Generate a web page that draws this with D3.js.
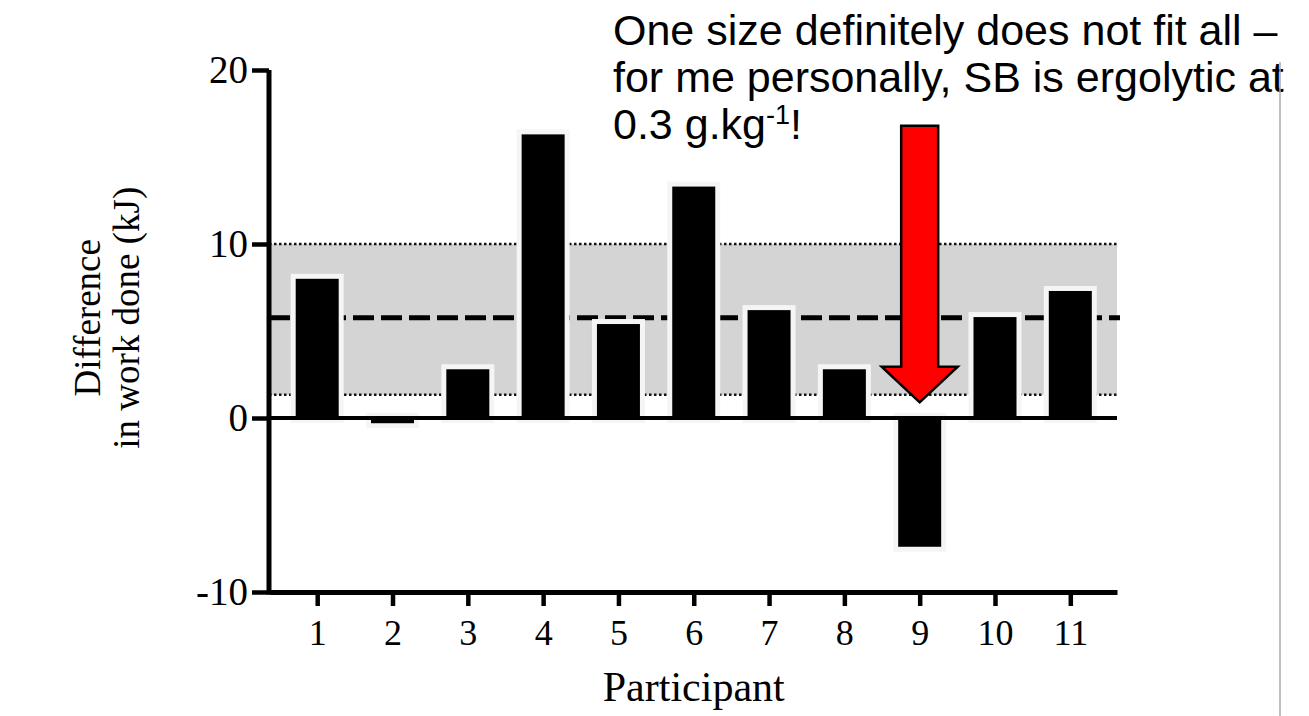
<!DOCTYPE html>
<html>
<head>
<meta charset="utf-8">
<script src="https://cdn.jsdelivr.net/npm/d3@7"></script>
<style>
  body { margin: 0; background: white; }
  svg { display: block; }
</style>
</head>
<body>
<div id="chart"></div>
<script>
// data
var participants = [1, 2, 3, 4, 5, 6, 7, 8, 9, 10, 11]
var workDiff = [8.0, -0.3, 2.8, 16.3, 5.4, 13.3, 6.2, 2.8, -7.4, 5.8, 7.3]
var yTicks = [-10, 0, 10, 20]
var meanDiff = 5.76
var bandLow = 1.33
var bandHigh = 10
var noteLines = ['One size definitely does not fit all \u2013',
                 'for me personally, SB is ergolytic at']
var arrowAt = 9, arrowTop = 16.8, arrowHead = 2.95, arrowTip = 0.9

var W = 1309, H = 716
var svg = d3.select('#chart').append('svg')
  .attr('width', W).attr('height', H)

var x = d3.scaleLinear().domain([0.36, 11.62]).range([269, 1117])
var y = d3.scaleLinear().domain([-10, 20]).range([592, 70])
var barW = 43
var serif = '"Liberation Serif", "Times New Roman", serif'
var sans = '"Liberation Sans", Arial, sans-serif'

// shaded band + dotted edges
svg.append('rect')
  .attr('x', x.range()[0]).attr('width', x.range()[1] - x.range()[0])
  .attr('y', y(bandHigh)).attr('height', y(bandLow) - y(bandHigh))
  .attr('fill', '#d4d4d4')
;[bandLow, bandHigh].forEach(function(v){
  svg.append('line')
    .attr('x1', x.range()[0]).attr('x2', x.range()[1])
    .attr('y1', y(v)).attr('y2', y(v))
    .attr('stroke', '#111').attr('stroke-width', 2.5)
    .attr('stroke-dasharray', '2.5,2.5')
})
// mean line
svg.append('line')
  .attr('x1', x.range()[0]).attr('x2', x.range()[1] + 3)
  .attr('y1', y(meanDiff)).attr('y2', y(meanDiff))
  .attr('stroke', '#000').attr('stroke-width', 5)
  .attr('stroke-dasharray', '21,7')

// bars with light halo
var bars = svg.append('g').selectAll('g')
  .data(participants.map(function(p, i){ return {p: p, v: workDiff[i]} }))
  .enter().append('g')
bars.append('rect')
  .attr('x', function(d){ return x(d.p) - barW/2 - 5 })
  .attr('width', barW + 10)
  .attr('y', function(d){ return Math.min(y(d.v), y(0)) - 5 })
  .attr('height', function(d){ return Math.abs(y(d.v) - y(0)) + 10 })
  .attr('fill', '#f5f5f5')
bars.append('rect')
  .attr('x', function(d){ return x(d.p) - barW/2 })
  .attr('width', barW)
  .attr('y', function(d){ return Math.min(y(d.v), y(0)) })
  .attr('height', function(d){ return Math.abs(y(d.v) - y(0)) })
  .attr('fill', '#000')

// zero line
svg.append('line')
  .attr('x1', x.range()[0]).attr('x2', x.range()[1])
  .attr('y1', y(0)).attr('y2', y(0))
  .attr('stroke', '#000').attr('stroke-width', 4)

// axes
var yAxis = svg.append('g')
  .attr('transform', 'translate(' + x.range()[0] + ',0)')
  .call(d3.axisLeft(y).tickValues(yTicks).tickSize(17).tickSizeOuter(0).tickPadding(4)
    .tickFormat(function(d){ return String(d) }))
var xAxis = svg.append('g')
  .attr('transform', 'translate(0,' + y(-10) + ')')
  .call(d3.axisBottom(x).tickValues(participants).tickSize(14).tickSizeOuter(0).tickPadding(13))
;[yAxis, xAxis].forEach(function(a){
  a.select('.domain').attr('stroke', '#000').attr('stroke-width', 5)
  a.selectAll('.tick line').attr('stroke', '#000').attr('stroke-width', 4.5)
  a.selectAll('.tick text').style('font-family', serif).attr('fill', '#000')
})
yAxis.selectAll('.tick text').style('font-size', '39px').attr('dy', '0.33em')
xAxis.selectAll('.tick text').style('font-size', '36px')
yAxis.select('.domain').attr('d', 'M0,' + (y(-10) + 2.5) + 'V' + y(20))

// axis titles
svg.append('text')
  .attr('x', x(6)).attr('y', 701)
  .attr('text-anchor', 'middle')
  .style('font-family', serif).style('font-size', '42px')
  .text('Participant')
var ylab = svg.append('text')
  .attr('transform', 'translate(100,' + y(5.76) + ') rotate(-90)')
  .attr('text-anchor', 'middle')
  .style('font-family', serif).style('font-size', '37px')
ylab.append('tspan').attr('x', 0).attr('dy', 0).text('Difference')
ylab.append('tspan').attr('x', 0).attr('dy', 39).text('in work done (kJ)')

// annotation
var note = svg.append('text')
  .attr('x', 613).attr('y', 45)
  .style('font-family', sans).style('font-size', '43px')
noteLines.forEach(function(t, i){
  note.append('tspan').attr('x', 613).attr('dy', i ? 47 : 0).text(t)
})
var l3 = svg.append('text')
  .attr('x', 613).attr('y', 139)
  .style('font-family', sans).style('font-size', '43px')
l3.append('tspan').text('0.3 g.kg')
l3.append('tspan').attr('dy', -15).style('font-size', '27px').text('-1')
l3.append('tspan').attr('dy', 15).text('!')

// gray vertical rule
svg.append('line')
  .attr('x1', 1280).attr('x2', 1280).attr('y1', 62).attr('y2', H)
  .attr('stroke', '#aaa').attr('stroke-width', 1.5)

// red arrow
var ax = x(arrowAt), sw = 18.5, hw = 38
var arrowPts = [
  [ax - sw, y(arrowTop)], [ax + sw, y(arrowTop)], [ax + sw, y(arrowHead)],
  [ax + hw, y(arrowHead)], [ax, y(arrowTip)], [ax - hw, y(arrowHead)],
  [ax - sw, y(arrowHead)]
]
svg.append('path')
  .attr('d', d3.line()(arrowPts) + 'Z')
  .attr('fill', '#ff0000').attr('stroke', '#000').attr('stroke-width', 2.5)
  .attr('stroke-linejoin', 'miter')
</script>
</body>
</html>
